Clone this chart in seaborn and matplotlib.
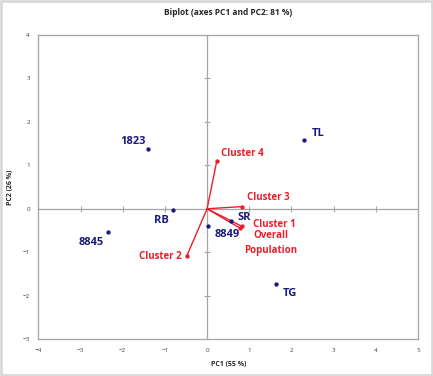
import numpy as np
import pandas as pd
import matplotlib
matplotlib.use("Agg")
import matplotlib.pyplot as plt
import seaborn as sns
from matplotlib.patches import Rectangle

# observations (PC1, PC2)
obs_names = ['1823', 'TL', 'RB', '8845', '8849', 'SR', 'TG']
obs_pc1 = [-1.41, 2.29, -0.81, -2.36, 0.02, 0.56, 1.63]
obs_pc2 = [1.38, 1.59, -0.02, -0.53, -0.39, -0.28, -1.72]

# variables (loadings)
var_names = ['Cluster 4', 'Cluster 3', 'Cluster 2', 'Cluster 1', 'Overall\nPopulation']
var_pc1 = [0.23, 0.82, -0.48, 0.82, 0.79]
var_pc2 = [1.10, 0.05, -1.08, -0.40, -0.45]

x_ticks = list(range(-4, 6))
y_ticks = list(range(-3, 5))

navy = '#1A1A7E'
red = '#E8202A'
grey = '#A6A6A6'

sns.set_style('white')
plt.rcParams['font.family'] = ['Open Sans', 'DejaVu Sans']

fig = plt.figure(figsize=(4.33, 3.76), dpi=100)
ax = fig.add_axes([0.0885, 0.0976, 0.877, 0.81])

obs = pd.DataFrame({'name': obs_names, 'PC1': obs_pc1, 'PC2': obs_pc2})
var = pd.DataFrame({'name': var_names, 'PC1': var_pc1, 'PC2': var_pc2})

ax.axhline(0, color=grey, lw=0.9, zorder=1)
ax.axvline(0, color=grey, lw=0.9, zorder=1)
# tick marks crossing the zero lines
ax.scatter(x_ticks, [0] * len(x_ticks), marker='|', s=18, color=grey, lw=0.8, zorder=1)
ax.scatter([0] * len(y_ticks), y_ticks, marker='_', s=18, color=grey, lw=0.8, zorder=1)

for _, r in var.iterrows():
    ax.plot([0, r.PC1], [0, r.PC2], color=red, lw=1.0, zorder=2)
sns.scatterplot(data=var, x='PC1', y='PC2', color=red, s=8, edgecolor=red, ax=ax, zorder=3)
sns.scatterplot(data=obs, x='PC1', y='PC2', color=navy, s=8, edgecolor=navy, ax=ax, zorder=3)

obs_off = {'1823': (-0.35, 0.17), 'TL': (0.33, 0.15),
           'RB': (-0.28, -0.26), '8845': (-0.38, -0.25),
           '8849': (0.45, -0.2), 'SR': (0.32, 0.07),
           'TG': (0.33, -0.22)}
for _, r in obs.iterrows():
    dx, dy = obs_off[r['name']]
    ax.text(r.PC1 + dx, r.PC2 + dy, r['name'], color=navy, fontsize=8,
            fontweight='bold', ha='center', va='center')

var_off = {'Cluster 4': (0.1, 0.18, 'left'), 'Cluster 3': (0.12, 0.22, 'left'),
           'Cluster 2': (-0.12, -0.01, 'right'), 'Cluster 1': (0.26, 0.03, 'left'),
           'Overall\nPopulation': (0.72, -0.33, 'center')}
for _, r in var.iterrows():
    dx, dy, ha = var_off[r['name']]
    ax.text(r.PC1 + dx, r.PC2 + dy, r['name'], color=red, fontsize=7,
            fontweight='bold', ha=ha, va='center', linespacing=1.45)

ax.set_xlim(-4, 5)
ax.set_ylim(-3, 4)
ax.set_xticks(x_ticks)
ax.set_yticks(y_ticks)
ax.tick_params(labelsize=4.5, length=0, pad=6, colors='#404040')
for s in ax.spines.values():
    s.set_color(grey)
    s.set_linewidth(0.9)
ax.set_xlabel('PC1 (55 %)', fontsize=5, fontweight='bold', labelpad=6)
ax.set_ylabel('PC2 (26 %)', fontsize=5, fontweight='bold', labelpad=6)
ax.set_title('Biplot (axes PC1 and PC2: 81 %)', fontsize=6, fontweight='bold', pad=14)

fig.patches.append(Rectangle((0.003, 0.003), 0.994, 0.994, transform=fig.transFigure,
                             fill=False, edgecolor='#D9D9D9', lw=2))

fig.savefig('out.png', dpi=100)
